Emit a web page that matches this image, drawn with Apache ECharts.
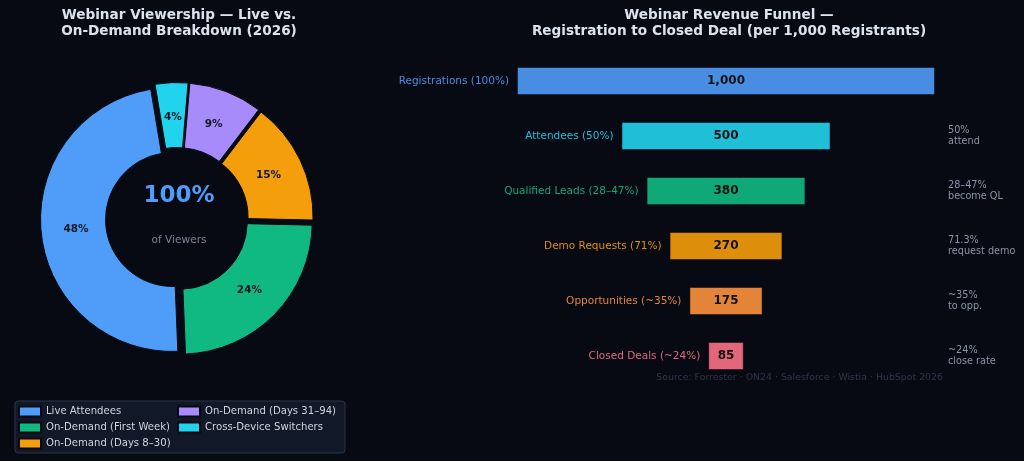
<!DOCTYPE html>
<html>
<head>
<meta charset="utf-8">
<title>Webinar Viewership & Revenue Funnel</title>
<script src="https://cdn.jsdelivr.net/npm/echarts@6/dist/echarts.min.js"></script>
<style>
  html, body { margin: 0; padding: 0; background: #070a13; }
  #main { width: 1024px; height: 461px; }
</style>
</head>
<body>
<div id="main"></div>
<script>
// 左边：观看方式占比
const viewTypes = ['Live Attendees', 'On-Demand (First Week)', 'On-Demand (Days 8–30)', 'On-Demand (Days 31–94)', 'Cross-Device Switchers'];
const viewShares = [48, 24, 15, 9, 4];
const viewColors = ['#4f9cf9', '#10b981', '#f59e0b', '#a78bfa', '#22d3ee'];

// 右边：漏斗各阶段
const stages = ['Registrations (100%)', 'Attendees (50%)', 'Qualified Leads (28–47%)', 'Demo Requests (71%)', 'Opportunities (~35%)', 'Closed Deals (~24%)'];
const stageValues = [1000, 500, 380, 270, 175, 85];
const stageNotes = ['', '50%\nattend', '28–47%\nbecome QL', '71.3%\nrequest demo', '~35%\nto opp.', '~24%\nclose rate'];
const stageColors = ['#4f9cf9', '#22d3ee', '#10b981', '#f59e0b', '#fb923c', '#fb7185'];
const funnelMax = 1000;

const bg = '#070a13';
const font = 'DejaVu Sans';
const pieCenter = [177, 219];

// 颜色按透明度叠到背景上
function fade(hex, a) {
  const c = [1, 3, 5].map((k) => parseInt(hex.substr(k, 2), 16));
  const b = [1, 3, 5].map((k) => parseInt(bg.substr(k, 2), 16));
  return 'rgb(' + c.map((v, i) => Math.round(v * a + b[i] * (1 - a))).join(',') + ')';
}

const myChart = echarts.init(document.getElementById('main'));

// 透明的偏移柱，让每根柱子居中
const offsetData = stageValues.map((v, i) => ({
  value: (funnelMax - v) / 2,
  label: { color: fade(stageColors[i], 0.9) },
}));

const barData = stageValues.map((v, i) => ({
  value: v,
  itemStyle: { color: fade(stageColors[i], 0.9) },
}));

const pieData = viewTypes.map((name, i) => ({
  name, value: viewShares[i], selected: true,
  itemStyle: { color: viewColors[i] },
}));

myChart.setOption({
  backgroundColor: bg,
  animation: false,
  graphic: [
    {
      type: 'text', x: 179, y: 23,
      style: {
        text: 'Webinar Viewership — Live vs.\nOn-Demand Breakdown (2026)',
        align: 'center', verticalAlign: 'middle', lineHeight: 16,
        font: 'bold 13.6px "DejaVu Sans"', fill: '#dde3ee',
      },
    },
    {
      type: 'text', x: 729, y: 23,
      style: {
        text: 'Webinar Revenue Funnel —\nRegistration to Closed Deal (per 1,000 Registrants)',
        align: 'center', verticalAlign: 'middle', lineHeight: 16,
        font: 'bold 13.6px "DejaVu Sans"', fill: '#dde3ee',
      },
    },
    {
      type: 'text', x: 179, y: 196,
      style: {
        text: '100%', align: 'center', verticalAlign: 'middle',
        font: 'bold 23px "DejaVu Sans"', fill: '#4f9cf9',
      },
    },
    {
      type: 'text', x: 179, y: 240,
      style: {
        text: 'of Viewers', align: 'center', verticalAlign: 'middle',
        font: '10.6px "DejaVu Sans"', fill: '#7a8296',
      },
    },
    {
      type: 'text', x: 943, y: 378,
      style: {
        text: 'Source: Forrester · ON24 · Salesforce · Wistia · HubSpot 2026',
        align: 'right', verticalAlign: 'middle',
        font: '9.4px "DejaVu Sans"', fill: '#2e3648',
      },
    },
  ],
  legend: {
    data: viewTypes,
    orient: 'vertical',
    left: 15,
    top: 401,
    height: 50,
    itemWidth: 22,
    itemHeight: 10,
    itemGap: 3,
    icon: 'rect',
    padding: [4, 9, 3, 3],
    backgroundColor: '#111827',
    borderColor: '#2d3446',
    borderWidth: 1,
    borderRadius: 3,
    selectedMode: false,
    textStyle: { color: '#d1d5db', fontSize: 10.1, lineHeight: 13, width: 128, fontFamily: font },
  },
  grid: { left: 517, top: 53.5, width: 418, height: 330 },
  xAxis: { type: 'value', min: 0, max: funnelMax, show: false },
  yAxis: [
    { type: 'category', data: stages, inverse: true, show: false },
    {
      type: 'category',
      data: stageNotes,
      inverse: true,
      position: 'right',
      axisLine: { show: false },
      axisTick: { show: false },
      axisLabel: {
        align: 'left', margin: 13, color: '#8b93a7',
        fontSize: 9.7, lineHeight: 11, fontFamily: font,
      },
    },
  ],
  series: [
    {
      name: '观看占比',
      type: 'pie',
      center: pieCenter,
      radius: [67, 132],
      clockwise: false,
      startAngle: 99.5,
      selectedMode: 'multiple',
      selectedOffset: 4.5,
      silent: true,
      itemStyle: { borderColor: bg, borderWidth: 1 },
      label: { show: false },
      labelLine: { show: false },
      data: pieData,
    },
    {
      // 只用来放百分比标签（比扇区中线稍靠里）
      name: '标签',
      type: 'pie',
      z: 5,
      center: pieCenter,
      radius: [65, 132],
      clockwise: false,
      startAngle: 99.5,
      silent: true,
      itemStyle: { color: 'rgba(0,0,0,0)', borderWidth: 0 },
      label: {
        show: true, position: 'inside', formatter: '{c}%',
        color: '#111827', fontSize: 10.5, fontWeight: 'bold', fontFamily: font,
      },
      labelLine: { show: false },
      data: viewTypes.map((name, i) => ({ name, value: viewShares[i] })),
    },
    {
      name: 'offset',
      type: 'bar',
      stack: 'funnel',
      barWidth: 28,
      silent: true,
      itemStyle: { color: 'transparent' },
      label: {
        show: true, position: 'insideRight', distance: 8,
        formatter: (p) => stages[p.dataIndex],
        fontSize: 10.5, fontFamily: font,
      },
      data: offsetData,
    },
    {
      name: 'funnel',
      type: 'bar',
      stack: 'funnel',
      barWidth: 28,
      silent: true,
      itemStyle: { borderColor: 'rgba(7,10,19,0.5)', borderWidth: 1 },
      label: {
        show: true, position: 'inside',
        formatter: (p) => p.value.toLocaleString('en-US'),
        color: '#111', fontSize: 12, fontWeight: 'bold', fontFamily: font,
      },
      data: barData,
    },
  ],
});
</script>
</body>
</html>
